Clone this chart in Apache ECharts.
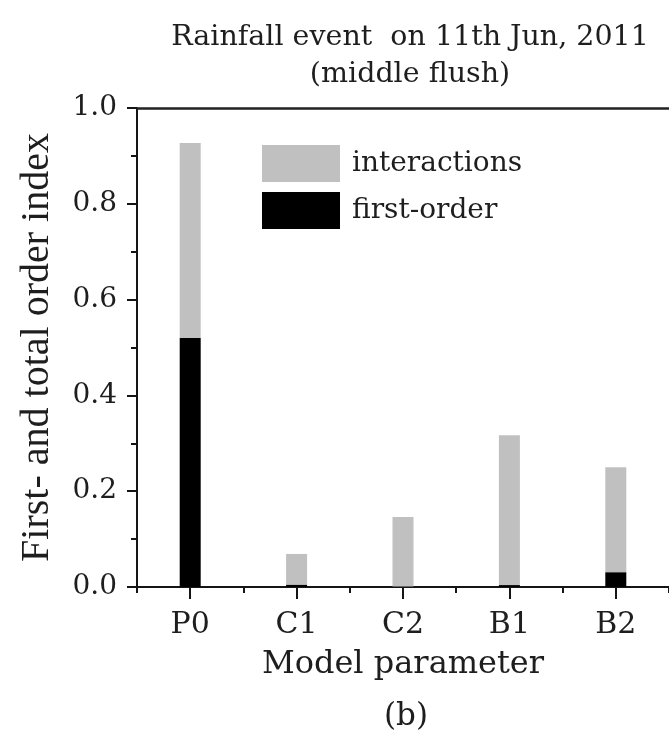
<!DOCTYPE html>
<html><head><meta charset="utf-8">
<script src="https://cdn.jsdelivr.net/npm/echarts@6/dist/echarts.min.js"></script>
<style>html,body{margin:0;padding:0;background:#fff}#c{width:669px;height:733px}</style>
</head><body><div id="c"></div>
<script>
var categories = ['P0', 'C1', 'C2', 'B1', 'B2'];
var firstOrder = [0.52, 0.005, 0.001, 0.004, 0.031];
var totalOrder = [0.927, 0.069, 0.146, 0.317, 0.25];
var yTicks = [0.0, 0.2, 0.4, 0.6, 0.8, 1.0];

var interactions = totalOrder.map(function (t, i) { return +(t - firstOrder[i]).toFixed(4); });

var FONT = 'DejaVu Serif';
var TXT = '#1e1e1e';
var AX = '#151515';
var chart = echarts.init(document.getElementById('c'));
chart.setOption({
  animation: false,
  backgroundColor: '#fff',
  title: [
    { text: 'Rainfall event  on 11th Jun, 2011\n(middle flush)', left: 405, top: 14, textAlign: 'center',
      textStyle: { fontFamily: FONT, fontSize: 28.5, fontWeight: 'normal', color: TXT, lineHeight: 37 } },
    { text: '(b)', left: 401, top: 696, textAlign: 'center',
      textStyle: { fontFamily: FONT, fontSize: 31, fontWeight: 'normal', color: TXT } }
  ],
  legend: {
    orient: 'vertical', left: 257, top: 140, itemWidth: 78, itemHeight: 37, itemGap: 10, icon: 'rect',
    data: ['interactions', 'first-order'],
    textStyle: { fontFamily: FONT, fontSize: 28, color: TXT, padding: [0, 0, 0, 7] }
  },
  grid: { left: 137, top: 108, right: 0, bottom: 146 },
  xAxis: [
    { type: 'category', data: categories, position: 'bottom', boundaryGap: true,
      axisLine: { show: true, lineStyle: { color: AX, width: 2 } },
      axisTick: { show: true, alignWithLabel: true, length: 12, lineStyle: { color: AX, width: 2 } },
      axisLabel: { margin: 23, fontFamily: FONT, fontSize: 30, color: TXT },
      splitLine: { show: false },
      name: 'Model parameter', nameLocation: 'middle', nameGap: 62,
      nameTextStyle: { fontFamily: FONT, fontSize: 32, color: TXT } },
    { type: 'category', data: categories, position: 'bottom', boundaryGap: true,
      axisLine: { show: false },
      axisTick: { show: true, alignWithLabel: false, length: 6, lineStyle: { color: AX, width: 2 } },
      axisLabel: { show: false }, splitLine: { show: false } },
    { type: 'category', data: categories, position: 'top', boundaryGap: true,
      axisLine: { show: true, lineStyle: { color: '#222', width: 2.5 } },
      axisTick: { show: false }, axisLabel: { show: false }, splitLine: { show: false } }
  ],
  yAxis: [
    { type: 'value', min: yTicks[0], max: yTicks[yTicks.length - 1], interval: 0.2,
      axisLine: { show: true, onZero: false, lineStyle: { color: AX, width: 2 } },
      axisTick: { show: true, length: 10, lineStyle: { color: AX, width: 2 } },
      minorTick: { show: true, splitNumber: 2, length: 6, lineStyle: { color: AX, width: 2 } },
      axisLabel: { margin: 20, formatter: function (v) { return v.toFixed(1); },
        fontFamily: FONT, fontSize: 28, color: TXT },
      splitLine: { show: false },
      name: 'First- and total order index', nameLocation: 'middle', nameGap: 80,
      nameTextStyle: { fontFamily: 'Liberation Serif', fontSize: 40, color: TXT } },
    { type: 'value', min: 0, max: 1, position: 'right',
      axisLine: { show: true, onZero: false, lineStyle: { color: '#c8c8c8', width: 1 } },
      axisTick: { show: false }, axisLabel: { show: false }, splitLine: { show: false } }
  ],
  series: [
    { name: 'first-order', type: 'bar', stack: 's', xAxisIndex: 0, yAxisIndex: 0, barWidth: 21,
      itemStyle: { color: '#000' }, data: firstOrder },
    { name: 'interactions', type: 'bar', stack: 's', xAxisIndex: 0, yAxisIndex: 0, barWidth: 21,
      itemStyle: { color: '#c0c0c0' }, data: interactions }
  ]
});
</script>
</body></html>
